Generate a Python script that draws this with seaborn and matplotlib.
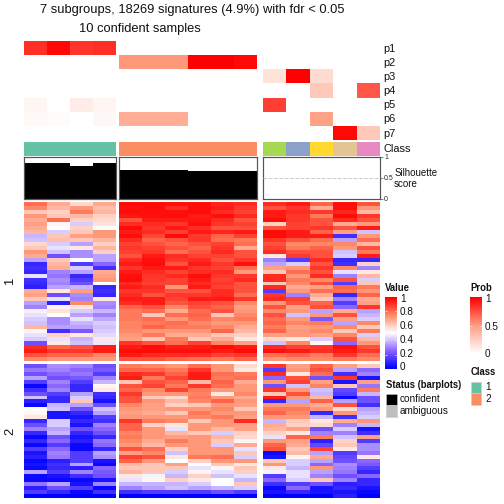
import numpy as np
import seaborn as sns
import matplotlib.pyplot as plt
from matplotlib.colors import LinearSegmentedColormap, ListedColormap
from matplotlib.patches import Rectangle

# membership probability per column
prob_g1 = [[.85, .97, .83, .85], [0, 0, 0, 0], [0, 0, 0, 0], [0, 0, 0, 0],
           [.05, 0, .1, .05], [.03, .02, 0, .04], [0, 0, 0, 0]]
prob_g2 = [[0, 0, 0, 0, 0, 0], [.52, .52, .52, 1, 1, .97], [0, 0, 0, 0, 0, 0], [0, 0, 0, 0, 0, 0],
           [0, 0, 0, 0, 0, 0], [.42, .42, .42, 0, 0, 0], [0, 0, 0, .01, .01, .01]]
prob_g3 = [[0, 0, 0, .01, .01], [0, 0, 0, 0, 0], [.15, 1, .18, 0, 0], [0, 0, .28, 0, .72],
           [.8, 0, 0, 0, 0], [0, 0, .48, 0, 0], [0, 0, 0, .97, .28]]
prob_labels = ['p1', 'p2', 'p3', 'p4', 'p5', 'p6', 'p7']

class_g1 = ['#66C2A5'] * 4
class_g2 = ['#FC8D62'] * 6
class_g3 = ['#A6D854', '#8DA0CB', '#FFD92F', '#E5C494', '#E78AC3']

silhouette_g1 = [.85, .85, .79, .85]
silhouette_g2 = [.69, .69, .69, .67, .67, .67]
silhouette_g3 = [0, 0, 0, 0, 0]

# expression, slice 1
value1_g1 = [
    [.8, .68, .58, .68], [.75, .65, .72, .64], [.62, .6, .78, .66], [.72, .62, .65, .6],
    [.68, .8, .6, .58], [.7, .52, .42, .56], [.68, .5, .6, .5], [.66, .42, .62, .72],
    [.38, .62, .7, .72], [.4, .64, .62, .66], [.58, .42, .35, .6], [.62, .45, .55, .66],
    [.72, .4, .32, .6], [.68, .2, .32, .35], [.35, .62, .5, .35], [.1, .65, .15, .25],
    [.12, .68, .42, .12], [.1, .3, .35, .68], [.45, .28, .1, .7], [.12, .32, .15, .72],
    [.1, .3, .2, .5], [.08, .35, .38, .1], [.68, .55, .7, .12], [.7, .2, .32, .1],
    [.62, .45, .3, .55], [.35, .08, .75, .32], [.3, .52, .55, .3], [.48, .56, .42, .38],
    [.45, .5, .35, .3], [.42, .32, .45, .36], [.4, .32, .38, .42], [.66, .35, .35, .4],
    [.52, .12, .22, .42], [.45, .6, .55, .44], [.42, .45, .38, .55], [.2, .55, .4, .46],
    [.92, .82, .85, .95], [.95, .9, .9, .95], [.85, .82, .82, .75], [.75, .72, .72, .72]]
value1_g2 = [
    [.98, .98, .97, .97, .93, .92], [.97, .98, .92, .98, .95, .9], [.98, .97, .97, .98, .92, .88],
    [.96, .97, .98, .95, .97, .92], [.85, .95, .95, .96, .92, .85], [.92, .92, .9, .97, .9, .88],
    [.98, .9, .95, .92, .85, .85], [.95, .92, .88, .95, .93, .95], [.97, .87, .98, .9, .82, .88],
    [.92, .82, .85, .9, .8, .78], [.88, .85, .82, .85, .88, .8], [.9, .88, .85, .82, .9, .68],
    [.88, .9, .8, .85, .92, .85], [.85, .95, .92, .88, .88, .85], [.92, .97, .9, .92, .85, .9],
    [.95, .98, .85, .95, .9, .97], [.9, .95, .95, .9, .88, .8], [.95, .92, .88, .92, .92, .72],
    [.97, .9, .92, .97, .9, .9], [.98, .9, .88, .95, .88, .92], [.92, .88, .88, .92, .9, .85],
    [.95, .92, .72, .95, .88, .85], [.9, .9, .85, .85, .92, .85], [.92, .85, .9, .9, .92, .8],
    [.95, .95, .88, .95, .95, .9], [.92, .95, .85, .88, .85, .75], [.82, .85, .75, .85, .82, .7],
    [.78, .8, .68, .8, .85, .72], [.78, .62, .8, .82, .62, .75], [.78, .8, .72, .8, .75, .78],
    [.76, .78, .8, .75, .72, .72], [.76, .82, .78, .78, .75, .68], [.75, .72, .72, .72, .82, .65],
    [.72, .78, .68, .68, .62, .6], [.7, .62, .78, .62, .68, .55], [.9, .85, .8, .88, .75, .7],
    [.95, .98, .95, .95, .98, .95], [.98, .98, .97, .97, .95, .98], [.95, .92, .92, .92, .88, .9],
    [.85, .85, .82, .8, .78, .82]]
value1_g3 = [
    [.92, .95, .82, .97, .85], [.85, .9, .68, .97, .72], [.95, .92, .9, .93, .65],
    [.95, .9, .78, .98, .9], [.98, .9, .85, .92, .85], [.6, .88, .85, .68, .72],
    [.85, .88, .9, .85, .95], [.98, .95, .82, .7, .4], [.98, .95, .95, .12, .72],
    [.9, .85, .8, .35, .8], [.85, .75, .75, .75, .65], [.88, .78, .82, .72, .85],
    [.92, .85, .85, .4, .78], [.55, .9, .85, .42, .95], [.3, .15, .92, .1, .1],
    [.35, .42, .85, .12, .6], [.7, .72, .9, .75, .3], [.62, .8, .85, .45, .55],
    [.92, .72, .92, .3, .65], [.92, .78, .75, .85, .42], [.62, .75, .85, .15, .62],
    [.92, .68, .7, .82, .78], [.15, .72, .8, .8, .72], [.9, .3, .68, .1, .82],
    [.92, .88, .62, .3, .68], [.72, .85, .82, .15, .7], [.85, .7, .85, .25, .9],
    [.75, .72, .35, .68, .35], [.85, .4, .72, .85, .38], [.8, .72, .22, .7, .42],
    [.82, .76, .78, .35, .75], [.78, .7, .72, .75, .62], [.82, .72, .75, .62, .78],
    [.7, .72, .7, .75, .42], [.58, .55, .42, .85, .65], [.4, .75, .52, .25, .72],
    [.92, .88, .9, .97, .85], [.97, .95, .92, .95, .9], [.8, .82, .78, .9, .8],
    [.72, .75, .75, .78, .75]]

# expression, slice 2
value2_g1 = [
    [.2, .32, .3, .2], [.28, .3, .25, .22], [.2, .25, .28, .15], [.35, .2, .22, .3],
    [.15, .3, .15, .38], [.02, .25, .1, .52], [.12, .3, .1, .55], [.2, .15, .35, .12],
    [.4, .1, .42, .1], [.08, .1, .62, .05], [.02, .38, .35, .2], [.5, .4, .2, .4],
    [.52, .05, .1, .35], [.55, .05, .05, .15], [.1, .42, .1, .12], [.2, .42, .05, .3],
    [.3, .35, .2, .25], [.1, .38, .1, .2], [.02, .2, .05, .1], [.1, .25, .08, .28],
    [.02, .15, .02, .25], [.15, .25, .02, .1], [.05, .3, .15, .35], [.08, .28, .15, .32],
    [.02, .08, .15, .05], [.05, .12, .35, .02], [.02, .1, .08, .25], [.35, .15, .3, .22],
    [.02, .05, .12, .2], [.02, .02, .02, .05], [.28, .35, .05, .3], [.08, .2, .15, .02],
    [.15, .1, .02, .12], [0, 0, 0, 0]]
value2_g2 = [
    [.78, .75, .72, .8, .72, .58], [.82, .82, .78, .9, .72, .55], [.92, .9, .82, .95, .8, .78],
    [.95, .78, .88, .95, .78, .8], [.62, .85, .82, .65, .82, .68], [.85, .88, .78, .9, .8, .72],
    [.82, .75, .88, .78, .72, .72], [.9, .72, .72, .76, .55, .75], [.85, .62, .58, .78, .72, .68],
    [.85, .72, .65, .75, .82, .72], [.75, .7, .6, .62, .72, .7], [.72, .7, .72, .72, .75, .62],
    [.7, .68, .62, .78, .72, .72], [.72, .72, .72, .75, .78, .7], [.9, .78, .75, .62, .72, .92],
    [.82, .6, .55, .72, .72, .7], [.82, .72, .45, .72, .65, .7], [.76, .72, .65, .62, .42, .6],
    [.78, .72, .7, .72, .66, .58], [.75, .68, .78, .72, .62, .52], [.72, .65, .72, .72, .42, .68],
    [.85, .8, .6, .72, .72, .45], [.7, .75, .4, .72, .72, .62], [.88, .85, .55, .78, .8, .42],
    [.82, .72, .5, .6, .72, .72], [.65, .62, .7, .5, .62, .55], [.62, .62, .62, .45, .52, .62],
    [.66, .62, .42, .52, .45, .6], [.55, .48, .38, .6, .4, .45], [.45, .52, .6, .55, .5, .38],
    [.38, .38, .38, .42, .5, .62], [.3, .35, .4, .35, .38, .42], [.12, .15, .15, .15, .2, .15],
    [0, 0, 0, 0, 0, 0]]
value2_g3 = [
    [.9, .7, .82, .7, .62], [.15, .72, .85, .35, .25], [.92, .55, .8, .12, .3],
    [.25, .85, .2, .9, .05], [.72, .88, .7, .05, .7], [.2, .4, .76, .62, .28],
    [.9, .72, .4, .18, .78], [.62, .85, .38, .15, .38], [.95, .72, .65, .02, .2],
    [.1, .35, .82, .35, .2], [.72, .72, .68, .85, .12], [.78, .78, .72, .58, .35],
    [.82, .75, .1, .72, .38], [.72, .72, .38, .12, .42], [.38, .62, .55, .68, .72],
    [.68, .6, .58, .3, .38], [.66, .7, .2, .42, .05], [.6, .55, .3, .3, .12],
    [.45, .82, .78, .4, .7], [.72, .7, .08, .6, .15], [.82, .68, .18, .62, .32],
    [.85, .62, .88, .55, .32], [.02, .65, .35, .15, .28], [.05, .52, .68, .18, .55],
    [.62, .42, .35, .2, .25], [.72, .42, .25, .32, .22], [.55, .38, .72, .3, .15],
    [.48, .45, .35, .28, .1], [.15, .45, .3, .2, .25], [.25, .42, .62, .3, .1],
    [.12, .15, .2, .08, .1], [.02, .25, .05, .1, .05], [.05, .1, .05, .05, .02],
    [0, 0, 0, .08, 0]]

value_ticks = ['0', '0.2', '0.4', '0.6', '0.8', '1']
prob_ticks = ['0', '0.5', '1']
class_names = ['1', '2']
status_names = ['confident', 'ambiguous']

sns.set_style('white')
plt.rcParams['font.family'] = ['Liberation Sans', 'DejaVu Sans']

value_cmap = LinearSegmentedColormap.from_list(
    'value', ['#0000FF', '#8A64FF', '#FFFFFF', '#FF8A68', '#FF0000'])
prob_cmap = LinearSegmentedColormap.from_list('prob', ['#FFFFFF', '#FF9E81', '#FF0000'])

W = 504
fig = plt.figure(figsize=(7, 7), dpi=72, facecolor='white')


def px_ax(x0, y0, x1, y1):
    # axes from pixel box, y counted from the top
    return fig.add_axes([x0 / W, 1 - y1 / W, (x1 - x0) / W, (y1 - y0) / W])


def px_text(x, y, s, **kw):
    kw.setdefault('va', 'center')
    kw.setdefault('color', '#111111')
    fig.text(x / W, 1 - y / W, s, **kw)


def heat(box, data, cmap, vmin=0, vmax=1):
    ax = px_ax(*box)
    sns.heatmap(np.array(data), ax=ax, cmap=cmap, vmin=vmin, vmax=vmax, cbar=False,
                xticklabels=False, yticklabels=False)
    return ax


columns = [(24, 116), (119, 257), (263, 380)]
prob_all = [prob_g1, prob_g2, prob_g3]
class_all = [class_g1, class_g2, class_g3]
silhouette_all = [silhouette_g1, silhouette_g2, silhouette_g3]
value1_all = [value1_g1, value1_g2, value1_g3]
value2_all = [value2_g1, value2_g2, value2_g3]

for i, (x0, x1) in enumerate(columns):
    heat((x0, 41, x1, 140), prob_all[i], prob_cmap)

    colors = class_all[i]
    heat((x0, 142, x1, 156), [list(range(len(colors)))], ListedColormap(colors), 0, max(len(colors) - 1, 1))

    ax = px_ax(x0, 157, x1, 199)
    sns.barplot(x=list(range(len(colors))), y=silhouette_all[i], color='black', width=1,
                saturation=1, linewidth=0, ax=ax)
    ax.set_xlim(-.5, len(colors) - .5)
    ax.set_ylim(0, 1)
    ax.set_xticks([])
    ax.set_yticks([])
    ax.set_xlabel('')
    ax.set_ylabel('')
    ax.axhline(.5, color='#CCCCCC', lw=1, ls='--', zorder=3 if i == 2 else 0)
    for sp in ax.spines.values():
        sp.set_visible(True)
        sp.set_color('#555555')
        sp.set_linewidth(1.2)
    if i == 2:
        ax.yaxis.tick_right()
        ax.set_yticks([0, .5, 1])
        ax.set_yticklabels(['0', '0.5', '1'], fontsize=7)
        ax.tick_params(axis='y', right=True, length=3, width=.6, pad=1, color='#333333')

    heat((x0, 202, x1, 361), value1_all[i], value_cmap)
    heat((x0, 364, x1, 498), value2_all[i], value_cmap)

for i, name in enumerate(prob_labels):
    px_text(383, 49 + i * 14.1, name, fontsize=11, ha='left')
px_text(383, 149, 'Class', fontsize=11, ha='left')
px_text(395, 173, 'Silhouette', fontsize=9.8, ha='left')
px_text(394, 184, 'score', fontsize=9.8, ha='left')

px_text(40, 10, '7 subgroups, 18269 signatures (4.9%) with fdr < 0.05', fontsize=12.9, ha='left')
px_text(79, 29, '10 confident samples', fontsize=12.9, ha='left')
px_text(10, 281, '1', fontsize=13, rotation=90, ha='center')
px_text(10, 431, '2', fontsize=13, rotation=90, ha='center')

# colour legends
px_text(385, 288, 'Value', fontsize=9.5, fontweight='bold', ha='left')
ax = heat((385, 297, 397, 369), np.linspace(1, 0, 72).reshape(-1, 1), value_cmap)
for t in [.2, .4, .6, .8]:
    ax.plot([0, .2], [(1 - t) * 72] * 2, color='white', lw=.6)
    ax.plot([.8, 1], [(1 - t) * 72] * 2, color='white', lw=.6)
for name, y in zip(value_ticks, [367, 354, 340, 326, 312, 299]):
    px_text(400, y, name, fontsize=10, ha='left')

px_text(470, 288, 'Prob', fontsize=9.5, fontweight='bold', ha='left')
ax = heat((470, 297, 482, 354), np.linspace(1, 0, 57).reshape(-1, 1), prob_cmap)
ax.plot([0, .2], [28.5] * 2, color='white', lw=.6)
ax.plot([.8, 1], [28.5] * 2, color='white', lw=.6)
for name, y in zip(prob_ticks, [354, 327, 299]):
    px_text(485, y, name, fontsize=10, ha='left')

px_text(471, 372, 'Class', fontsize=9.5, fontweight='bold', ha='left')
for i, name in enumerate(class_names):
    fig.add_artist(Rectangle((471 / W, 1 - (393 + i * 11.5) / W), 10 / W, 11.5 / W,
                             facecolor=class_g1[0] if i == 0 else class_g2[0],
                             edgecolor='#CCCCCC', lw=.5, transform=fig.transFigure))
    px_text(485, 387 + i * 11.5, name, fontsize=10, ha='left')

px_text(386, 385, 'Status (barplots)', fontsize=9.5, fontweight='bold', ha='left')
for i, (name, col) in enumerate(zip(status_names, ['black', '#BEBEBE'])):
    fig.add_artist(Rectangle((386 / W, 1 - (405 + i * 11.5) / W), 11 / W, 11.5 / W,
                             facecolor=col, edgecolor='#CCCCCC', lw=.5, transform=fig.transFigure))
    px_text(400, 399.5 + i * 12, name, fontsize=10, ha='left')

fig.savefig('out.png', dpi=72, facecolor='white')
